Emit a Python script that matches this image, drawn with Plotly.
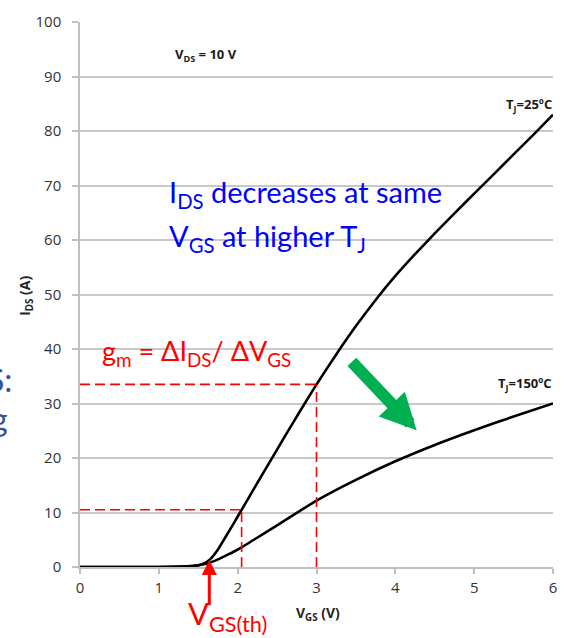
import plotly.graph_objects as go

# ---- data ----
vgs_25 = [0, 0.5, 1.0, 1.3, 1.45, 1.55, 1.65, 1.75, 1.85, 1.95, 2.05, 2.2, 2.4, 2.6, 2.8, 3.0,
          3.25, 3.5, 3.75, 4.0, 4.25, 4.5, 4.75, 5.0, 5.25, 5.5, 5.75, 6.0]
ids_25 = [0, 0, 0, 0.05, 0.2, 0.5, 1.4, 3.2, 5.6, 8.0, 10.5, 14.2, 19.1, 24.0, 28.8, 33.5,
          39.0, 44.2, 49.0, 53.4, 57.4, 61.2, 64.9, 68.5, 72.1, 75.7, 79.3, 83]

vgs_150 = [0, 1.0, 1.45, 1.55, 1.65, 1.75, 1.85, 1.95, 2.05, 2.2, 2.5, 2.8, 3.0, 3.5, 4.0, 4.5, 5.0, 5.5, 6.0]
ids_150 = [0, 0, 0.2, 0.45, 0.8, 1.4, 2.1, 2.8, 3.6, 4.95, 7.65, 10.4, 12.2, 16.0, 19.4, 22.4, 25.1, 27.6, 30]

x_ticks = [0, 1, 2, 3, 4, 5, 6]
y_ticks = [0, 10, 20, 30, 40, 50, 60, 70, 80, 90, 100]

gm_points_v = [2.05, 3.0]
gm_points_i = [10.5, 33.5]
vth = 1.64

fig = go.Figure()
for xs, ys in ((vgs_25, ids_25), (vgs_150, ids_150)):
    fig.add_trace(go.Scatter(x=xs, y=ys, mode="lines",
                             line=dict(color="black", width=2.6, shape="spline", smoothing=0.5),
                             showlegend=False, hoverinfo="skip"))

shapes = []
for v, i in zip(gm_points_v, gm_points_i):
    shapes.append(dict(type="line", xref="x", yref="y", x0=0, x1=v, y0=i, y1=i,
                       line=dict(color="#FF0000", width=1.6, dash="10px,5px")))
    shapes.append(dict(type="line", xref="x", yref="y", x0=v, x1=v, y0=0, y1=i,
                       line=dict(color="#FF0000", width=1.6, dash="10px,5px")))

PW, PH = 476.0, 556.0
def px2paper(px, py):
    return (px - 80) / PW, (567 - py) / PH

annotations = []
blue_font = dict(family="Lato", size=29, color="#0000FF")
annotations.append(dict(xref="x", yref="y", x=1.1, y=68.6, xanchor="left", yanchor="middle",
                        text="I<sub>DS</sub> decreases at same", showarrow=False, font=blue_font))
annotations.append(dict(xref="x", yref="y", x=1.1, y=60.4, xanchor="left", yanchor="middle",
                        text="V<sub>GS</sub> at higher T<sub>J</sub>", showarrow=False, font=blue_font))
annotations.append(dict(xref="x", yref="y", x=0.25, y=39.3, xanchor="left", yanchor="middle",
                        text="g<sub>m</sub> = ΔI<sub>DS</sub>/ ΔV<sub>GS</sub>", showarrow=False,
                        font=dict(family="Lato", size=27, color="#FF0000")))
small_bold = dict(family="Open Sans", size=13, color="#1a1a1a")
annotations.append(dict(xref="x", yref="y", x=1.6, y=93.9, text="<b>V<sub>DS</sub> = 10 V</b>",
                        showarrow=False, font=small_bold))
px_, py_ = px2paper(557, 96)
annotations.append(dict(xref="paper", yref="paper", x=px_, y=py_, xanchor="right", yanchor="middle",
                        text="<b>T<sub>J</sub>=25ºC</b>", showarrow=False, font=small_bold))
px_, py_ = px2paper(557, 380)
annotations.append(dict(xref="paper", yref="paper", x=px_, y=py_, xanchor="right", yanchor="middle",
                        text="<b>T<sub>J</sub>=150ºC</b>", showarrow=False, font=small_bold))
# green arrow
annotations.append(dict(xref="x", yref="y", axref="x", ayref="y", x=4.27, y=25.1, ax=3.43, ay=37.9,
                        text="", showarrow=True, arrowhead=2, arrowsize=0.6, arrowwidth=12,
                        arrowcolor="#00B050"))
# red threshold arrow
annotations.append(dict(xref="x", yref="y", axref="x", ayref="y", x=vth, y=1.3, ax=vth, ay=-7.3,
                        text="", showarrow=True, arrowhead=2, arrowsize=1.0, arrowwidth=3,
                        arrowcolor="#FF0000"))
px_, py_ = px2paper(187, 593)
annotations.append(dict(xref="paper", yref="paper", x=px_, y=py_, xanchor="left", yanchor="top",
                        text="V<sub>GS(th)</sub>", showarrow=False,
                        font=dict(family="Lato", size=31, color="#FF0000")))
# axis titles
px_, py_ = px2paper(320, 614)
annotations.append(dict(xref="paper", yref="paper", x=px_, y=py_, xanchor="center", yanchor="middle",
                        text="<b>V<sub>GS</sub> (V)</b>", showarrow=False,
                        font=dict(family="Open Sans", size=14, color="#262626")))
px_, py_ = px2paper(25, 290)
annotations.append(dict(xref="paper", yref="paper", x=px_, y=py_, xanchor="center", yanchor="middle",
                        text="<b>I<sub>DS</sub> (A)</b>", textangle=-90, showarrow=False,
                        font=dict(family="Open Sans", size=14, color="#262626")))
# cropped slide fragments at the left edge
px_, py_ = px2paper(14, 376)
annotations.append(dict(xref="paper", yref="paper", x=px_, y=py_, xanchor="right", yanchor="middle",
                        text="S:", showarrow=False, font=dict(family="Lato", size=32, color="#2F5597")))
px_, py_ = px2paper(10, 416)
annotations.append(dict(xref="paper", yref="paper", x=px_, y=py_, xanchor="right", yanchor="middle",
                        text="g", showarrow=False, font=dict(family="Lato", size=32, color="#2F5597")))

tickfont = dict(family="Open Sans", size=15, color="#333333")
fig.update_layout(
    width=568, height=638,
    margin=dict(l=80, r=12, t=11, b=71, pad=0),
    paper_bgcolor="white", plot_bgcolor="white",
    shapes=shapes, annotations=annotations,
    xaxis=dict(range=[0, 6], tickvals=x_ticks, showgrid=False, zeroline=False,
               showline=True, linecolor="#BFBFBF", linewidth=1.5,
               ticks="outside", ticklen=5, tickcolor="#BFBFBF", tickwidth=1.5,
               ticklabelstandoff=1, tickfont=tickfont),
    yaxis=dict(range=[0, 100], tickvals=y_ticks, showgrid=True, gridcolor="#C8C8C8", gridwidth=1.5,
               zeroline=False, showline=True, linecolor="#BFBFBF", linewidth=1.5,
               ticks="outside", ticklen=6, tickcolor="#BFBFBF", tickwidth=1.5,
               ticklabelstandoff=8, tickfont=tickfont),
)

fig.write_html("out.html")
